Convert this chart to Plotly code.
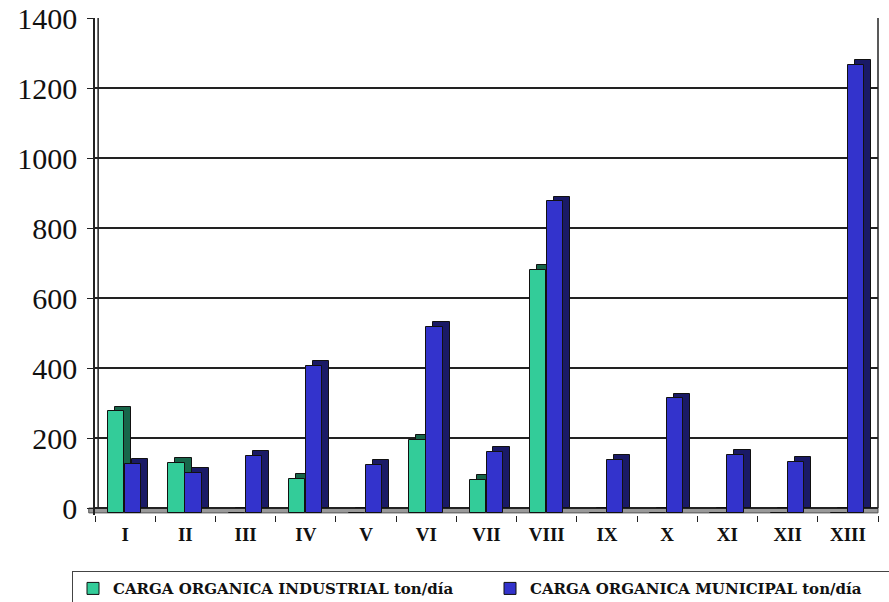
import plotly.graph_objects as go

regiones = ["I", "II", "III", "IV", "V", "VI", "VII", "VIII", "IX", "X", "XI", "XII", "XIII"]
industrial = [290, 144, 0, 97, 0, 208, 94, 695, 0, 0, 0, 0, 0]
municipal = [140, 115, 163, 420, 137, 532, 173, 890, 151, 327, 166, 146, 1280]
y_ticks = [0, 200, 400, 600, 800, 1000, 1200, 1400]

nombre_ind = "CARGA ORGANICA INDUSTRIAL ton/día"
nombre_mun = "CARGA ORGANICA MUNICIPAL ton/día"

# pseudo-3D: a dark "depth" bar behind each front face, shifted right and up
DEPTH = 14          # vertical depth in data units
W = 0.27            # bar face width (category units)
DX = 0.116          # horizontal depth shift (category units)
OFF_IND = -0.282
OFF_MUN = 0.0

serif = "Liberation Serif"

fig = go.Figure()

def add_series(vals, name, face, side, off):
    fig.add_trace(go.Bar(
        x=regiones, y=vals, base=0, offset=off + DX, width=W,
        marker=dict(color=side, line=dict(color="#111", width=1)),
        showlegend=False, hoverinfo="skip"))
    fig.add_trace(go.Bar(
        x=regiones, y=vals, base=[-DEPTH] * len(vals), offset=off, width=W,
        name=name,
        marker=dict(color=face, line=dict(color="#111", width=1))))

add_series(industrial, nombre_ind, "#33cc99", "#17664a", OFF_IND)
add_series(municipal, nombre_mun, "#3333cc", "#1a1a66", OFF_MUN)

# floor slab and wall edges
fig.add_shape(type="rect", xref="paper", yref="y", x0=-0.008, x1=1.0, y0=-DEPTH, y1=0,
              fillcolor="#9a9a9a", line=dict(color="#555", width=1), layer="below")
fig.add_shape(type="line", xref="paper", yref="y", x0=1, x1=1, y0=0, y1=1400,
              line=dict(color="#222", width=1.5))
fig.add_shape(type="line", xref="paper", yref="y", x0=0.004, x1=0.004, y0=0, y1=1400,
              line=dict(color="#222", width=1.5))

fig.update_layout(
    width=889, height=602,
    margin=dict(l=95, r=11, t=18, b=87, autoexpand=False),
    paper_bgcolor="white", plot_bgcolor="white",
    barmode="overlay",
    bargap=0,
    font=dict(family=serif, color="#111"),
    xaxis=dict(
        type="category", range=[-0.5, 12.5],
        showgrid=False, showline=False, zeroline=False,
        ticks="outside", tickson="boundaries", ticklen=6, tickcolor="#222",
        ticklabelstandoff=6,
        tickfont=dict(family=serif, size=19, color="#111", weight="bold"),
    ),
    yaxis=dict(
        range=[-20, 1400], tickvals=y_ticks,
        showgrid=True, gridcolor="#222", gridwidth=1.5,
        zeroline=False, showline=True, linecolor="#222", linewidth=1.5,
        ticks="outside", ticklen=6, tickcolor="#222", ticklabelstandoff=4,
        tickfont=dict(family=serif, size=30, color="#111"),
    ),
    legend=dict(
        orientation="h", x=-0.03, xanchor="left", y=-0.112, yanchor="top",
        bordercolor="#444", borderwidth=1.5,
        entrywidth=372, entrywidthmode="pixels",
        itemwidth=30,
        font=dict(family="DejaVu Serif", size=15, color="#111", weight="bold"),
        traceorder="normal",
    ),
)

fig.write_html("out.html")
